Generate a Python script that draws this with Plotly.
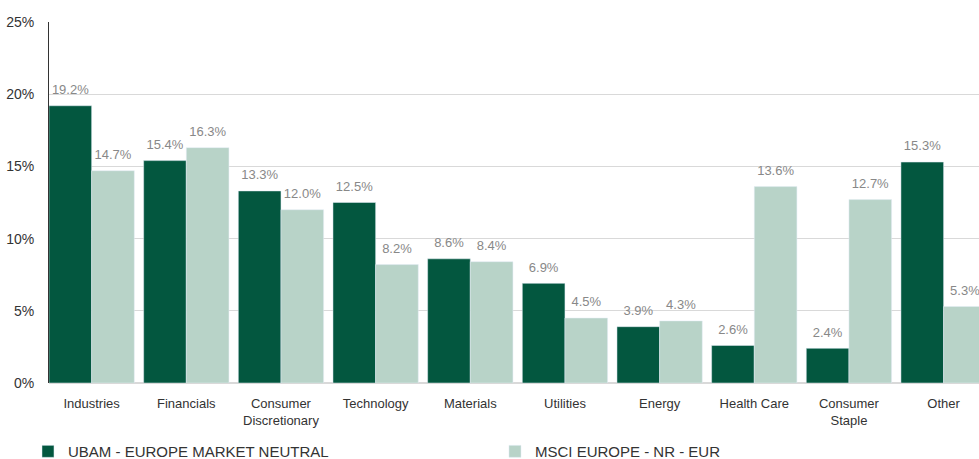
import plotly.graph_objects as go

categories = ["Industries", "Financials", "Consumer<br>Discretionary", "Technology", "Materials",
              "Utilities", "Energy", "Health Care", "Consumer<br>Staple", "Other"]
ubam = [19.2, 15.4, 13.3, 12.5, 8.6, 6.9, 3.9, 2.6, 2.4, 15.3]
msci = [14.7, 16.3, 12.0, 8.2, 8.4, 4.5, 4.3, 13.6, 12.7, 5.3]
series_names = ["UBAM - EUROPE MARKET NEUTRAL", "MSCI EUROPE - NR - EUR"]
tick_vals = [0, 5, 10, 15, 20, 25]
tick_text = ["0%", "5%", "10%", "15%", "20%", "25%"]
colors = ["#03573F", "#B8D3C8"]

font_family = "Liberation Sans, Arial, sans-serif"
gap = 0.099
x_range = [-0.5 + gap / 2, 9.374]

fig = go.Figure()
for name, vals, col in zip(series_names, [ubam, msci], colors):
    fig.add_trace(go.Bar(x=categories, y=vals, name=name, marker_color=col))
for name, vals in zip(series_names, [ubam, msci]):
    fig.add_trace(go.Scatter(x=categories, y=vals, mode="text+markers", showlegend=False,
                             marker=dict(size=12, opacity=0), hoverinfo="skip",
                             text=[f"{v:.1f}%" for v in vals], textposition="top center",
                             textfont=dict(color="#888888", size=13, family=font_family),
                             cliponaxis=False))

fig.update_layout(
    width=979, height=459,
    margin=dict(l=49, r=0, t=22, b=76, autoexpand=False),
    barmode="group", bargap=gap, bargroupgap=0,
    scattermode="group", scattergap=gap,
    plot_bgcolor="white", paper_bgcolor="white",
    font=dict(family=font_family, color="#333333", size=13),
    yaxis=dict(range=[0, 25], tickvals=tick_vals, ticktext=tick_text, showgrid=True,
               gridcolor="#D9D9D9", gridwidth=1, zeroline=True, zerolinecolor="#D9D9D9",
               showline=True, linecolor="#333333", linewidth=1, ticks="", ticklen=0,
               ticklabelstandoff=11,
               automargin=False, tickfont=dict(size=14, color="#333333")),
    xaxis=dict(showgrid=False, showline=False, ticks="", automargin=False,
               range=x_range,
               ticklabelstandoff=11,
               tickfont=dict(size=13, color="#333333")),
    showlegend=True,
    legend=dict(orientation="h", x=-0.0226, xanchor="left", y=-0.19, yanchor="middle",
                entrywidth=422, entrywidthmode="pixels", font=dict(size=15, color="#333333"),
                traceorder="normal"),
)
fig.write_html("out.html", config={"displayModeBar": False},
               post_script="document.body.style.margin='0px';")
